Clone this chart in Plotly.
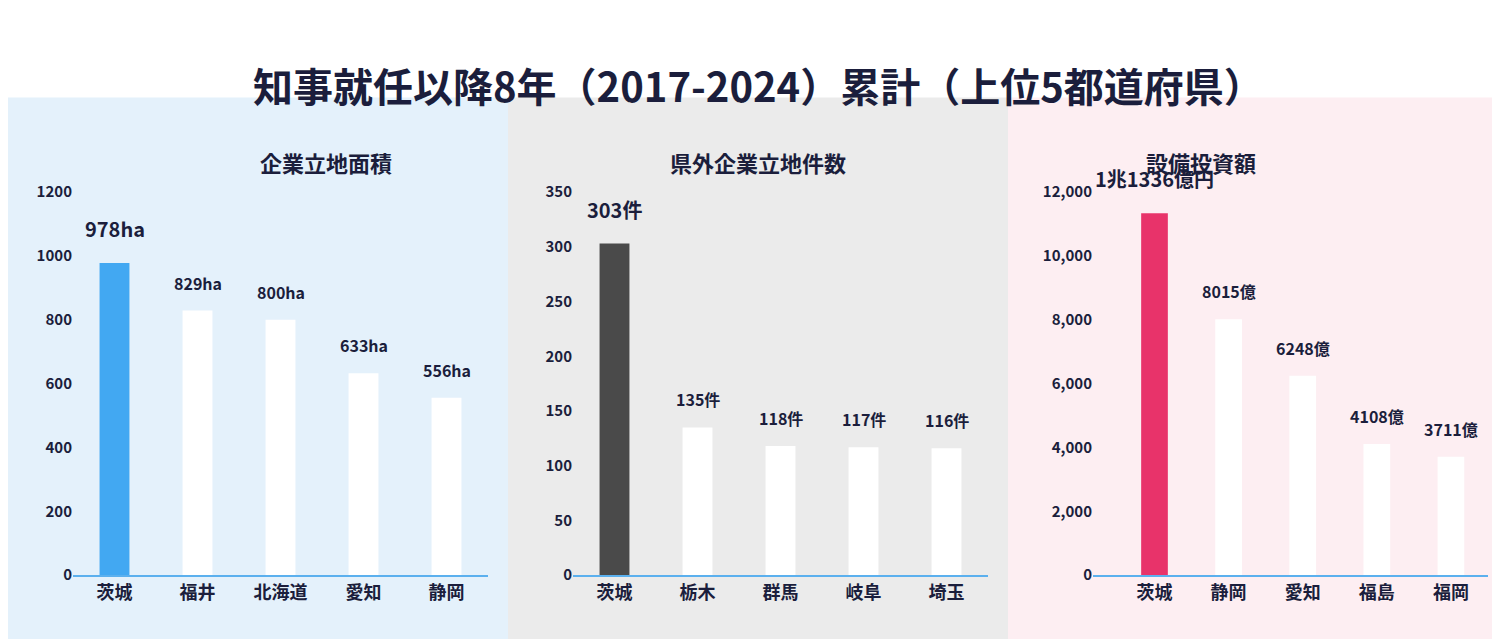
import plotly.graph_objects as go

# データ
pref_area = ["茨城", "福井", "北海道", "愛知", "静岡"]
area_ha = [978, 829, 800, 633, 556]
area_labels = ["978ha", "829ha", "800ha", "633ha", "556ha"]

pref_count = ["茨城", "栃木", "群馬", "岐阜", "埼玉"]
count = [303, 135, 118, 117, 116]
count_labels = ["303件", "135件", "118件", "117件", "116件"]

pref_inv = ["茨城", "静岡", "愛知", "福島", "福岡"]
invest = [11336, 8015, 6248, 4108, 3711]
inv_labels = ["1兆1336億円", "8015億", "6248億", "4108億", "3711億"]

panels = [
    ("企業立地面積", pref_area, area_ha, area_labels, "#42A8F2", [0, 1200], 200, "", [65, 480], "#E4F1FB", [0, 500]),
    ("県外企業立地件数", pref_count, count, count_labels, "#4A4A4A", [0, 350], 50, "", [565, 980], "#EBEBEB", [500, 1000]),
    ("設備投資額", pref_inv, invest, inv_labels, "#E8336A", [0, 12000], 2000, ",", [1085, 1480], "#FDEEF2", [1000, 1500]),
]

W, H = 1500, 640
NAVY = "#1B1E3C"
FONT = "Noto Sans CJK JP"

fig = go.Figure()
y0, y1 = 1 - 574 / H, 1 - 178 / H

for i, (title, cats, vals, labels, color, yr, dt, fmt, xd, bg, bgx) in enumerate(panels):
    n = "" if i == 0 else str(i + 1)
    fig.add_shape(type="rect", xref="paper", yref="paper", x0=bgx[0] / W, x1=bgx[1] / W,
                  y0=0, y1=1 - 80 / H, fillcolor=bg, line_width=0, layer="below")
    fig.add_trace(go.Bar(x=cats, y=vals, xaxis="x" + n, yaxis="y" + n,
                         marker=dict(color=[color] + ["white"] * 4, line_width=0),
                         cliponaxis=False, hoverinfo="skip"))
    for j, (c, v, t) in enumerate(zip(cats, vals, labels)):
        fig.add_annotation(x=c, y=v, xref="x" + n, yref="y" + n, text="<b>" + t + "</b>",
                           showarrow=False, yanchor="bottom", yshift=18 if j == 0 else 14,
                           font=dict(size=20 if j == 0 else 16, color=NAVY, family=FONT))
    fig.update_layout(**{
        "xaxis" + n: dict(domain=[xd[0] / W, xd[1] / W], anchor="y" + n, showline=True,
                          linecolor="#5BB0EE", linewidth=2, ticks="",
                          tickvals=cats, ticktext=["<b>" + c + "</b>" for c in cats],
                          tickfont=dict(size=18, color=NAVY, family=FONT)),
        "yaxis" + n: dict(domain=[y0, y1], anchor="x" + n, range=yr, dtick=dt, tickformat=fmt,
                          showgrid=False, zeroline=False, tickprefix="<b>", ticksuffix="</b>",
                          tickfont=dict(size=15, color=NAVY, family=FONT)),
    })
    fig.add_annotation(text="<b>" + title + "</b>", xref="paper", yref="paper",
                       x=(bgx[0] + bgx[1]) / 2 / W, y=1 - 128 / H, showarrow=False,
                       font=dict(size=22, color=NAVY, family=FONT))

fig.add_annotation(text="<b>知事就任以降8年（2017-2024）累計（上位5都道府県）</b>", xref="paper", yref="paper",
                   x=0.5, y=1 - 35 / H, showarrow=False,
                   font=dict(size=40, color=NAVY, family=FONT))

fig.update_layout(width=W, height=H, margin=dict(l=0, r=0, t=0, b=0),
                  paper_bgcolor="white", plot_bgcolor="rgba(0,0,0,0)",
                  showlegend=False, bargap=0.64,
                  font=dict(family=FONT, color=NAVY))

fig.write_html("out.html")
